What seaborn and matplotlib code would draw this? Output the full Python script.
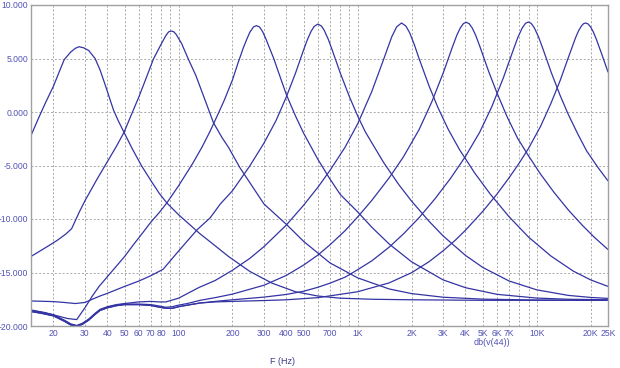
import matplotlib
matplotlib.use("Agg")
import matplotlib.pyplot as plt
import pandas as pd
import seaborn as sns
from matplotlib.ticker import FixedLocator, FixedFormatter, NullLocator

# ---------------- data ----------------
freq_c1 = [15, 16.5, 18, 20, 21.5, 23, 25, 26.5, 27.8, 29.5, 31.5, 34.2, 36.5, 39, 41, 43.3, 46, 49.6,
           55, 62, 70, 78, 86, 100, 115, 130, 160, 190, 250, 333, 450, 600, 800, 1200, 2000, 5000, 25000]
db_c1 = [-2.2, -0.6, 0.8, 2.4, 3.7, 4.9, 5.6, 5.95, 6.1, 6.0, 5.75, 5.0, 3.9, 2.5, 1.4, 0.2, -0.8, -1.9,
         -3.4, -5.0, -6.4, -7.6, -8.5, -9.6, -10.5, -11.3, -12.5, -13.5, -14.9, -16.0, -16.8, -17.2, -17.4,
         -17.5, -17.55, -17.6, -17.6]

freq_c2 = [15, 18, 21, 23.5, 25.3, 28, 30, 35, 40.5, 45, 49.6, 55, 60, 65, 72.4, 80, 85, 88, 91, 94, 97,
           104, 113.7, 125, 140, 156.6, 175, 190, 220, 250, 300, 400, 500, 700, 1000, 1500, 2000, 3000,
           5000, 10000, 25000]
db_c2 = [-13.5, -12.7, -12.0, -11.4, -10.9, -9.3, -8.3, -6.3, -4.5, -3.2, -1.9, -0.1, 1.4, 2.9, 4.95,
         6.35, 7.15, 7.49, 7.57, 7.5, 7.25, 6.4, 4.9, 3.4, 1.2, -1.0, -2.4, -3.3, -5.2, -6.6, -8.6, -10.5,
         -12.1, -14.1, -15.5, -16.54, -16.97, -17.31, -17.49, -17.57, -17.6]

freq_c3 = [15, 18, 21, 24, 27, 30, 33, 36, 40, 45, 50, 56, 63, 70, 78, 86, 100, 120, 135, 150, 165, 180,
           200, 215, 230, 240, 250, 262, 272, 283, 295, 308, 320, 340, 360, 400, 450, 500, 600, 700, 800,
           1000, 1200, 1500, 2000, 3000, 4000, 6000, 10000, 15000, 25000]
db_c3 = [-18.5, -18.75, -19.05, -19.3, -19.4, -18.3, -17.2, -16.3, -15.4, -14.4, -13.5, -12.4, -11.3,
         -10.3, -9.4, -8.5, -6.9, -4.8, -3.3, -1.8, -0.3, 1.1, 3.0, 4.6, 6.0, 6.77, 7.45, 7.95, 8.07, 7.95,
         7.5, 6.8, 6.1, 5.0, 3.8, 1.62, -0.38, -2.0, -4.43, -6.26, -7.71, -9.33, -10.77, -12.34, -14.0,
         -15.69, -16.42, -17.04, -17.39, -17.5, -17.55]

freq_c4 = [15, 20, 23, 26.5, 30, 33, 36.4, 40, 50, 60, 70, 82, 100, 127, 150, 171, 200, 250, 300, 350,
           400, 450, 500, 525, 550, 572, 600, 628, 650, 685, 720, 800, 900, 1000, 1100, 1200, 1400, 1700,
           2000, 2500, 3000, 4000, 5000, 7000, 10000, 15000, 20000, 25000]
db_c4 = [-17.66, -17.72, -17.8, -17.9, -17.8, -17.5, -17.2, -16.95, -16.3, -15.8, -15.3, -14.7, -13.0,
         -11.0, -9.9, -8.6, -7.36, -5.04, -2.9, -0.81, 1.42, 3.64, 5.84, 6.79, 7.55, 8.0, 8.22, 8.03, 7.65,
         6.81, 5.82, 3.64, 1.42, -0.36, -1.81, -2.88, -4.75, -6.8, -8.33, -10.2, -11.58, -13.4, -14.53,
         -15.79, -16.62, -17.14, -17.33, -17.42]

freq_c5 = [15, 17, 20, 23, 25, 27, 29, 31.5, 34, 36.4, 40, 45, 50, 60, 70, 78, 85, 100, 130, 160, 200,
           250, 300, 400, 500, 600, 700, 850, 1000, 1200, 1400, 1460, 1550, 1650, 1758, 1860, 1950, 2070,
           2200, 2500, 2800, 3200, 3700, 4500, 5500, 7000, 9000, 12000, 16000, 20000, 25000]
db_c5 = [-18.55, -18.7, -18.95, -19.45, -19.8, -19.95, -19.75, -19.35, -18.85, -18.45, -18.2, -18.0,
         -17.9, -17.75, -17.7, -17.75, -17.75, -17.4, -16.4, -15.75, -14.79, -13.68, -12.58, -10.56,
         -8.7, -7.03, -5.47, -3.3, -1.11, 1.92, 4.97, 5.82, 7.02, 7.95, 8.32, 8.03, 7.42, 6.32, 5.02,
         2.47, 0.46, -1.6, -3.5, -5.69, -7.67, -9.78, -11.69, -13.46, -14.87, -15.69, -16.3]

freq_c6 = [15, 17, 20, 23, 25, 27, 29, 31.5, 34, 36.4, 40, 45, 50, 60, 70, 76, 85, 92, 100, 112, 132,
           160, 200, 300, 400, 500, 600, 700, 850, 1000, 1200, 1500, 1800, 2200, 2600, 3000, 3400, 3580,
           3750, 3900, 4040, 4190, 4350, 4560, 4800, 5400, 6000, 6800, 7800, 9000, 10500, 12500, 15000,
           18000, 21000, 25000]
db_c6 = [-18.6, -18.75, -19.0, -19.5, -19.85, -20.0, -19.8, -19.4, -18.9, -18.5, -18.25, -18.05,
         -17.95, -17.95, -18.0, -18.1, -18.25, -18.2, -18.05, -17.9, -17.6, -17.35, -17.02, -16.19,
         -15.27, -14.3, -13.37, -12.42, -11.1, -9.81, -8.26, -6.15, -4.2, -1.67, 0.98, 3.62, 6.18, 7.18,
         7.88, 8.27, 8.38, 8.26, 7.89, 7.18, 6.18, 3.75, 1.78, -0.37, -2.42, -4.1, -5.8, -7.52, -9.15,
         -10.6, -11.72, -12.85]

freq_c7 = [15, 17, 20, 23, 25, 27, 29, 31.5, 34, 36.4, 40, 45, 50, 60, 70, 76, 85, 92, 100, 112, 132,
           160, 200, 300, 400, 500, 600, 700, 850, 1000, 1200, 1500, 1800, 2200, 2700, 3300, 4000, 4800,
           5600, 6500, 7400, 7850, 8300, 8660, 8975, 9300, 9700, 10250, 10800, 12000, 13500, 15000, 17000,
           19000, 22000, 25000]
db_c7 = [-18.65, -18.8, -19.05, -19.55, -19.9, -20.0, -19.85, -19.45, -18.95, -18.55, -18.3, -18.1,
         -18.0, -18.0, -18.08, -18.2, -18.35, -18.35, -18.2, -18.05, -17.85, -17.7, -17.55, -17.3,
         -17.05, -16.75, -16.38, -16.0, -15.44, -14.74, -13.91, -12.63, -11.4, -9.89, -8.12, -6.21,
         -4.15, -1.9, 0.46, 3.16, 5.81, 6.98, 7.86, 8.29, 8.41, 8.29, 7.86, 6.99, 5.96, 3.78, 1.56,
         -0.22, -2.1, -3.64, -5.2, -6.44]

freq_c8 = [15, 17, 20, 23, 25, 27, 29, 31.5, 34, 36.4, 40, 45, 50, 60, 70, 76, 85, 92, 100, 112, 132,
           160, 200, 300, 400, 600, 1000, 1500, 2000, 2500, 3000, 3500, 4000, 5000, 6000, 7000, 8000,
           9000, 10500, 12000, 13500, 15000, 16500, 17100, 17800, 18250, 18750, 19350, 20000, 20700,
           21500, 23000, 25000]
db_c8 = [-18.65, -18.8, -19.05, -19.55, -19.9, -20.0, -19.85, -19.45, -18.95, -18.55, -18.3, -18.1,
         -18.0, -18.0, -18.08, -18.2, -18.35, -18.35, -18.2, -18.05, -17.85, -17.75, -17.7, -17.62,
         -17.55, -17.35, -16.8, -15.97, -15.02, -14.0, -12.97, -12.0, -11.05, -9.28, -7.67, -6.16,
         -4.75, -3.4, -1.35, 0.8, 2.92, 5.07, 6.97, 7.57, 8.06, 8.25, 8.32, 8.23, 7.94, 7.48, 6.82,
         5.47, 3.74]

grid_freqs = [20, 30, 40, 50, 60, 70, 80, 90, 100, 200, 300, 400, 500, 600, 700, 800, 900,
              1000, 2000, 3000, 4000, 5000, 6000, 7000, 8000, 9000, 10000, 20000, 25000]
x_tick_labels = ["20", "30", "40", "50", "60", "70", "80", "", "100", "200", "300", "400", "500", "",
                 "700", "", "", "1K", "2K", "3K", "4K", "5K", "6K", "7K", "", "", "10K", "20K", "25K"]
y_ticks = [-20, -15, -10, -5, 0, 5, 10]
y_tick_labels = ["-20.000", "-15.000", "-10.000", "-5.000", "0.000", "5.000", "10.000"]

# ---------------- build table ----------------
curves = [(freq_c1, db_c1), (freq_c2, db_c2), (freq_c3, db_c3), (freq_c4, db_c4),
          (freq_c5, db_c5), (freq_c6, db_c6), (freq_c7, db_c7), (freq_c8, db_c8)]
frames = []
for i, (f, d) in enumerate(curves, 1):
    frames.append(pd.DataFrame({"freq": f, "db": d, "curve": f"c{i}"}))
df = pd.concat(frames, ignore_index=True)

sns.set_style("white")
plt.rcParams["font.family"] = ["Liberation Sans", "DejaVu Sans"]

LINE = "#3434a4"
TXT = "#5252b4"
GRID = "#a8a8a8"

fig = plt.figure(figsize=(6.2, 3.68), dpi=100)
W, H = 620, 368
ax = fig.add_axes([31 / W, 1 - 326 / H, (608 - 31) / W, (326 - 5) / H])

sns.lineplot(data=df, x="freq", y="db", units="curve", estimator=None, sort=False,
             color=LINE, linewidth=0.9, ax=ax, legend=False)

ax.set_xscale("log")
ax.set_xlim(15, 25000)
ax.set_ylim(-20, 10)

ax.xaxis.set_major_locator(FixedLocator(grid_freqs))
ax.xaxis.set_major_formatter(FixedFormatter(x_tick_labels))
ax.xaxis.set_minor_locator(NullLocator())
ax.set_yticks(y_ticks)
ax.set_yticklabels(y_tick_labels)

ax.grid(True, which="major", linestyle=(0, (2, 2)), color=GRID, linewidth=0.7)
ax.tick_params(axis="both", length=0, labelsize=6.2, labelcolor=TXT, pad=2)
ax.set_xlabel("")
ax.set_ylabel("")

for s in ax.spines.values():
    s.set_visible(True)
    s.set_color("#a0a0a0")
    s.set_linewidth(1.0)

fig.text(283 / W, 1 - 361.7 / H, "F (Hz)", ha="center", va="center", fontsize=6.5, color="#3a3a8c")
fig.text(492 / W, 1 - 342.5 / H, "db(v(44))", ha="center", va="center", fontsize=6.5, color=TXT)

fig.savefig("out.png", dpi=100)
